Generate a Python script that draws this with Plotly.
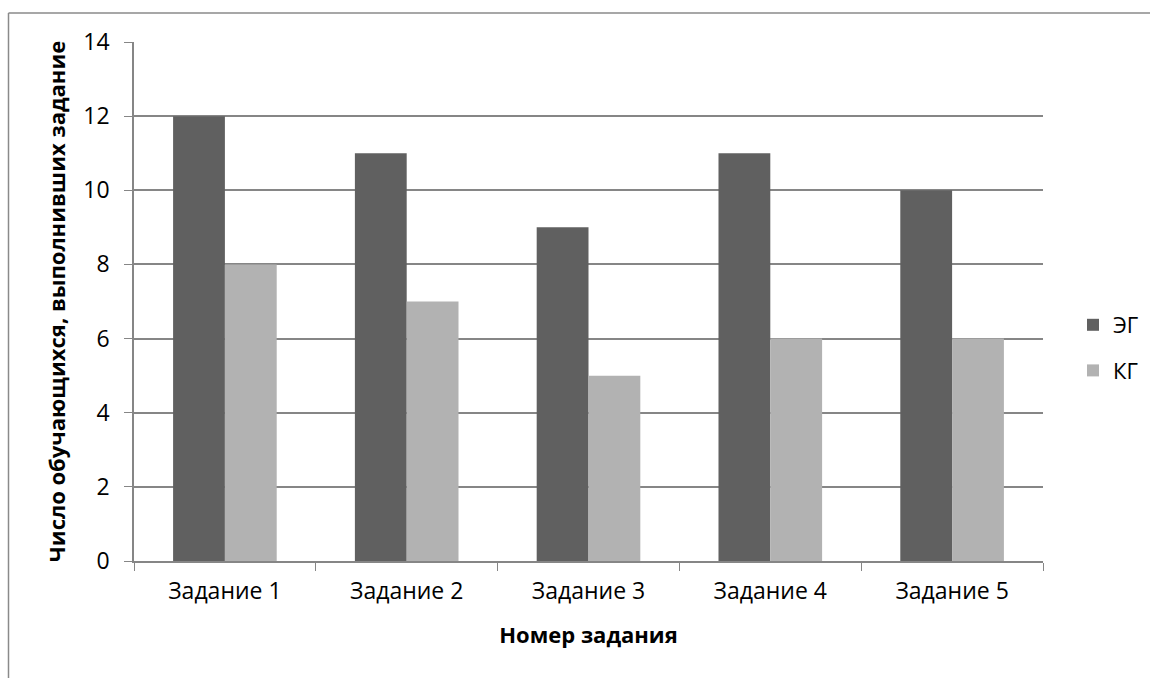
import plotly.graph_objects as go

# Task categories and the number of students who completed each one
tasks = ["Задание 1", "Задание 2", "Задание 3", "Задание 4", "Задание 5"]
eg_counts = [12, 11, 9, 11, 10]   # experimental group
kg_counts = [8, 7, 5, 6, 6]       # control group

W, H = 1150, 678
L, R, T, B = 134, 1043, 42, 561   # plot area edges in pixels

FONT = "Open Sans, Liberation Sans, sans-serif"
GRID = "#868686"

fig = go.Figure()
fig.add_trace(go.Bar(name="ЭГ", x=tasks, y=eg_counts, marker_color="#606060",
                     marker_line_width=0, legendgroup="eg"))
fig.add_trace(go.Bar(name="КГ", x=tasks, y=kg_counts, marker_color="#b2b2b2",
                     marker_line_width=0, legendgroup="kg"))

pw, ph = R - L, B - T


def px_x(p):
    return (p - L) / pw


def px_y(p):
    return (B - p) / ph


fig.update_layout(
    width=W, height=H,
    margin=dict(l=L, r=W - R, t=T, b=H - B, autoexpand=False),
    paper_bgcolor="white", plot_bgcolor="white",
    barmode="group", bargap=0.43, bargroupgap=0,
    font=dict(family=FONT, size=22, color="#000000"),
    xaxis=dict(
        title=dict(text="<b>Номер задания</b>", font=dict(size=22), standoff=22),
        showline=True, linecolor=GRID, linewidth=1.5,
        ticks="outside", tickson="boundaries", ticklen=8, tickcolor=GRID,
        ticklabelstandoff=9, tickfont=dict(size=23),
        showgrid=False,
    ),
    yaxis=dict(
        title=dict(text="<b>Число обучающихся, выполнивших задание</b>",
                   font=dict(size=22), standoff=12),
        range=[0, 14], dtick=2, tick0=0,
        showline=True, linecolor=GRID, linewidth=1.5,
        ticks="outside", ticklen=8, tickcolor=GRID,
        ticklabelstandoff=10, tickfont=dict(size=23),
        showgrid=True, gridcolor=GRID, gridwidth=1.5,
        zeroline=False,
    ),
    legend=dict(
        x=px_x(1073), y=px_y(348), xanchor="left", yanchor="middle",
        traceorder="grouped", tracegroupgap=14,
        font=dict(size=22), itemwidth=30,
        bgcolor="rgba(0,0,0,0)",
    ),
    shapes=[
        # outer chart frame (top and left edges visible)
        dict(type="line", xref="paper", yref="paper",
             x0=px_x(8.5), x1=px_x(1160), y0=px_y(13), y1=px_y(13),
             line=dict(color="#8a8a8a", width=1.5)),
        dict(type="line", xref="paper", yref="paper",
             x0=px_x(8.5), x1=px_x(8.5), y0=px_y(13), y1=px_y(690),
             line=dict(color="#8a8a8a", width=1.5)),
    ],
)

fig.write_html("out.html")
